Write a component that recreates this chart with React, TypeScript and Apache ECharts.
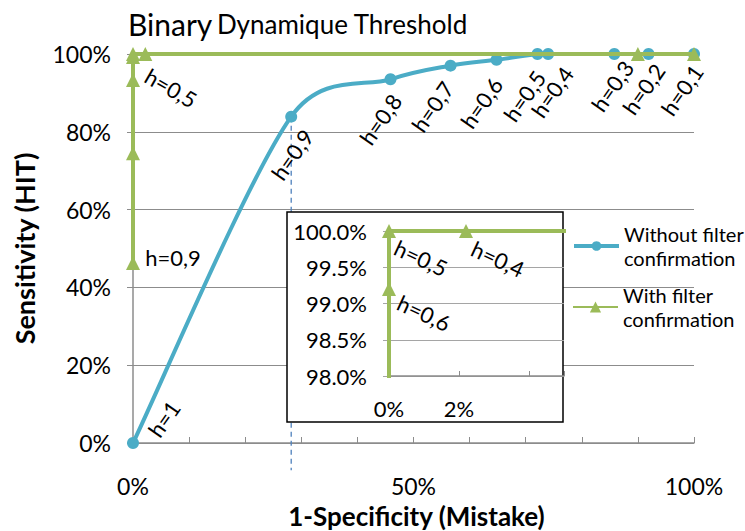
import React, { useEffect, useRef } from "react";
import * as echarts from "echarts";

// ---- data ----
const blueName = "Without filter\nconfirmation";
const greenName = "With filter\nconfirmation";

const blueX = [0, 0.282, 0.459, 0.566, 0.648, 0.721, 0.74, 0.858, 0.919, 1.0];
const blueY = [0, 0.839, 0.935, 0.97, 0.985, 1.0, 1.0, 1.0, 1.0, 1.0];
const blueLabels = ["h=1", "h=0,9", "h=0,8", "h=0,7", "h=0,6", "h=0,5", "h=0,4", "h=0,3", "h=0,2", "h=0,1"];

const greenX = [0, 0, 0, 0, 0, 0.022, 0.9, 1.0];
const greenY = [0.463, 0.745, 0.933, 0.992, 1.0, 1.0, 1.0, 1.0];
const greenLabels = ["h=0,9", "h=0,8", "h=0,7", "h=0,6", "h=0,5", "h=0,4", "h=0,2", "h=0,1"];
const greenMainShown = ["h=0,9", "h=0,5"];
const greenInsetShown = ["h=0,6", "h=0,5", "h=0,4"];

const dropX = [0.282, 0.282];
const dropY = [0.839, -0.07];

const mainXLabels = [0, 50, 100];
const insetXLabels = [0, 2];

// ---- styles ----
const FONT = "Lato";
const BLUE = "#4BACC6";
const GREEN = "#9BBB59";
const GRID_GRAY = "#8c8c8c";
const BLUE_SIZE = 12;
const GREEN_SIZE = 14;

// label centre offsets from the point (px)
const blueLabelOffsets: Record<string, number[]> = {
  "h=1": [31, -24],
  "h=0,9": [1, 38],
  "h=0,8": [-10, 40],
  "h=0,7": [-18, 41],
  "h=0,6": [-15, 43],
  "h=0,5": [-13, 42],
  "h=0,4": [4, 38],
  "h=0,3": [-2, 32],
  "h=0,2": [-5, 35],
  "h=0,1": [-12, 36],
};
const greenMainOffsets: Record<string, number[]> = {
  "h=0,9": [40, -5],
  "h=0,5": [38, 34],
};
const greenMainRotate: Record<string, number> = { "h=0,9": 0, "h=0,5": -30 };
const greenInsetOffsets: Record<string, number[]> = {
  "h=0,6": [35, 24],
  "h=0,5": [32, 27],
  "h=0,4": [32, 28],
};

const pct = (v: number) => Math.round(v * 100);

// Excel-like smoothed line: Bezier with tangent (next - prev), control length
// min(|next - prev| / 6, |segment| / 2)
function smoothPath(pts: number[][]): string {
  if (!pts.length) return "";
  const dist = (a: number[], b: number[]) => Math.hypot(b[0] - a[0], b[1] - a[1]);
  let d = `M${pts[0][0]},${pts[0][1]}`;
  for (let i = 0; i < pts.length - 1; i++) {
    const p0 = pts[Math.max(i - 1, 0)];
    const p1 = pts[i];
    const p2 = pts[i + 1];
    const p3 = pts[Math.min(i + 2, pts.length - 1)];
    const seg = dist(p1, p2);
    const d02 = dist(p0, p2);
    const d13 = dist(p1, p3);
    const f = d02 > 0 ? Math.min(d02 / 6, seg / 2) / d02 : 0;
    const g = d13 > 0 ? Math.min(d13 / 6, seg / 2) / d13 : 0;
    const c1 = [p1[0] + (p2[0] - p0[0]) * f, p1[1] + (p2[1] - p0[1]) * f];
    const c2 = [p2[0] - (p3[0] - p1[0]) * g, p2[1] - (p3[1] - p1[1]) * g];
    d += ` C${c1[0]},${c1[1]} ${c2[0]},${c2[1]} ${p2[0]},${p2[1]}`;
  }
  return d;
}

export default function App() {
  const ref = useRef<HTMLDivElement>(null);
  useEffect(() => {
    if (!ref.current) return;
    const chart = echarts.init(ref.current, undefined, { renderer: "svg" });

    const labelStyle = { color: "#000", fontSize: 22, fontFamily: FONT };

    const blueData = blueX.map((x, i) => {
      const name = blueLabels[i];
      const off = blueLabelOffsets[name];
      const h = BLUE_SIZE / 2;
      return {
        value: [x, blueY[i]],
        label: {
          show: true,
          formatter: name,
          position: [off[0] + h, off[1] + h],
          align: "center",
          verticalAlign: "middle",
          rotate: 55,
          ...labelStyle,
        },
      };
    });

    const greenMainData = greenX.map((x, i) => {
      const name = greenLabels[i];
      const shown = greenMainShown.includes(name);
      const off = greenMainOffsets[name] || [0, 0];
      const h = GREEN_SIZE / 2;
      return {
        value: [x, greenY[i]],
        label: shown
          ? {
              show: true,
              formatter: name,
              position: [off[0] + h, off[1] + h],
              align: "center",
              verticalAlign: "middle",
              rotate: greenMainRotate[name],
              ...labelStyle,
            }
          : { show: false },
      };
    });

    const greenInsetData = greenX.map((x, i) => {
      const name = greenLabels[i];
      const shown = greenInsetShown.includes(name);
      const off = greenInsetOffsets[name] || [0, 0];
      const h = GREEN_SIZE / 2;
      return {
        value: [x, greenY[i]],
        label: shown
          ? {
              show: true,
              formatter: name,
              position: [off[0] + h, off[1] + h],
              align: "center",
              verticalAlign: "middle",
              rotate: -25,
              ...labelStyle,
            }
          : { show: false },
      };
    });

    const legendText = {
      color: "#000",
      fontSize: 20,
      lineHeight: 24,
      fontFamily: FONT,
      padding: [24, 0, 0, 0],
    };

    chart.setOption({
      animation: false,
      backgroundColor: "#fff",
      textStyle: { fontFamily: FONT },
      title: {
        text: "{a|Binary} {b|Dynamique Threshold}",
        left: 123,
        top: 4,
        textStyle: {
          fontWeight: "normal",
          rich: {
            a: { fontSize: 30, fontFamily: FONT, color: "#000", fontWeight: "normal" },
            b: { fontSize: 26, fontFamily: FONT, color: "#000", fontWeight: "normal" },
          },
        },
      },
      legend: [
        {
          data: [{ name: blueName }],
          left: 572,
          top: 210,
          padding: 0,
          itemWidth: 45,
          itemHeight: 12,
          lineStyle: { color: BLUE, width: 4, opacity: 1 },
          textStyle: legendText,
        },
        {
          data: [{ name: greenName }],
          left: 572,
          top: 271,
          padding: 0,
          itemWidth: 45,
          itemHeight: 14,
          textStyle: legendText,
        },
      ],
      graphic: [
        {
          type: "rect",
          z: 100,
          shape: { x: 287, y: 212, width: 276, height: 210 },
          style: { fill: "#fff", stroke: "#000", lineWidth: 1.5 },
        },
      ],
      grid: [
        { left: 133, right: 51, top: 54, bottom: 88, outerBoundsMode: "none", containLabel: false },
        { left: 389, top: 231, width: 175, height: 145, outerBoundsMode: "none", containLabel: false },
      ],
      xAxis: [
        {
          type: "value",
          gridIndex: 0,
          min: 0,
          max: 1,
          interval: 0.1,
          name: "1-Specificity (Mistake)",
          nameLocation: "middle",
          nameMoveOverlap: false,
          nameGap: 73,
          nameTextStyle: {
            fontSize: 26,
            lineHeight: 26,
            fontWeight: "bold",
            color: "#000",
            fontFamily: FONT,
            verticalAlign: "middle",
            padding: [0, 0, 0, 6],
          },
          axisLine: { show: true, lineStyle: { color: GRID_GRAY, width: 1.5 } },
          axisTick: { show: true, inside: true, length: 6, lineStyle: { color: GRID_GRAY } },
          splitLine: { show: false },
          axisLabel: {
            margin: 31,
            fontSize: 23,
            color: "#000",
            fontFamily: FONT,
            formatter: (v: number) => (mainXLabels.includes(pct(v)) ? pct(v) + "%" : ""),
          },
        },
        {
          type: "value",
          gridIndex: 1,
          min: 0,
          max: 0.05,
          interval: 0.02,
          z: 105,
          axisLine: { show: true, lineStyle: { color: GRID_GRAY, width: 1.5 } },
          axisTick: { show: true, inside: true, length: 5, lineStyle: { color: GRID_GRAY } },
          splitLine: { show: false },
          axisLabel: {
            margin: 21,
            fontSize: 22,
            color: "#000",
            fontFamily: FONT,
            formatter: (v: number) => (insetXLabels.includes(pct(v)) ? pct(v) + "%" : ""),
          },
        },
      ],
      yAxis: [
        {
          type: "value",
          gridIndex: 0,
          min: 0,
          max: 1,
          interval: 0.2,
          name: "Sensitivity (HIT)",
          nameLocation: "middle",
          nameMoveOverlap: false,
          nameGap: 95,
          nameTextStyle: { fontSize: 27, fontWeight: "bold", color: "#000", fontFamily: FONT },
          axisLine: { show: true, lineStyle: { color: GRID_GRAY, width: 1.5 } },
          axisTick: { show: true, length: 6, lineStyle: { color: GRID_GRAY } },
          splitLine: { show: true, lineStyle: { color: GRID_GRAY, width: 1.2 } },
          axisLabel: {
            margin: 22,
            fontSize: 23,
            color: "#000",
            fontFamily: FONT,
            formatter: (v: number) => pct(v) + "%",
          },
        },
        {
          type: "value",
          gridIndex: 1,
          min: 0.98,
          max: 1.0,
          interval: 0.005,
          z: 105,
          axisLine: { show: true, lineStyle: { color: GRID_GRAY, width: 1.5 } },
          axisTick: { show: true, length: 6, lineStyle: { color: "#a5a5a5" } },
          splitLine: { show: true, lineStyle: { color: "#a5a5a5", width: 1.2 } },
          axisLabel: {
            margin: 22,
            fontSize: 22,
            color: "#000",
            fontFamily: FONT,
            formatter: (v: number) => (v * 100).toFixed(1) + "%",
          },
        },
      ],
      series: [
        {
          name: "drop",
          type: "line",
          xAxisIndex: 0,
          yAxisIndex: 0,
          clip: false,
          symbol: "none",
          silent: true,
          z: 1,
          data: dropX.map((x, i) => [x, dropY[i]]),
          lineStyle: { color: "#4F81BD", width: 1.3, type: [5, 4] },
        },
        {
          name: "blueCurve",
          type: "custom",
          xAxisIndex: 0,
          yAxisIndex: 0,
          silent: true,
          z: 2,
          data: blueX.map((x, i) => [x, blueY[i]]),
          renderItem: (params: any, api: any) => {
            if (params.dataIndex !== 0) return null;
            const pts = blueX.map((x, i) => api.coord([x, blueY[i]]));
            return {
              type: "path",
              shape: { pathData: smoothPath(pts) },
              style: { fill: "none", stroke: BLUE, lineWidth: 4 },
            };
          },
        },
        {
          name: blueName,
          type: "line",
          xAxisIndex: 0,
          yAxisIndex: 0,
          symbol: "circle",
          symbolSize: BLUE_SIZE,
          z: 3,
          itemStyle: { color: BLUE, borderWidth: 0 },
          lineStyle: { color: BLUE, width: 4, opacity: 0 },
          data: blueData,
        },
        {
          name: greenName,
          type: "line",
          xAxisIndex: 0,
          yAxisIndex: 0,
          symbol: "triangle",
          symbolSize: GREEN_SIZE,
          z: 4,
          itemStyle: { color: GREEN, borderWidth: 0 },
          lineStyle: { color: GREEN, width: 4 },
          data: greenMainData,
        },
        {
          name: "inset",
          type: "line",
          xAxisIndex: 1,
          yAxisIndex: 1,
          symbol: "triangle",
          symbolSize: GREEN_SIZE,
          clip: true,
          z: 110,
          itemStyle: { color: GREEN, borderWidth: 0 },
          lineStyle: { color: GREEN, width: 4 },
          data: greenInsetData,
        },
      ],
    });

    return () => chart.dispose();
  }, []);

  return (
    <div
      ref={ref}
      style={{ position: "absolute", left: 0, top: 0, width: 745, height: 531 }}
    />
  );
}
